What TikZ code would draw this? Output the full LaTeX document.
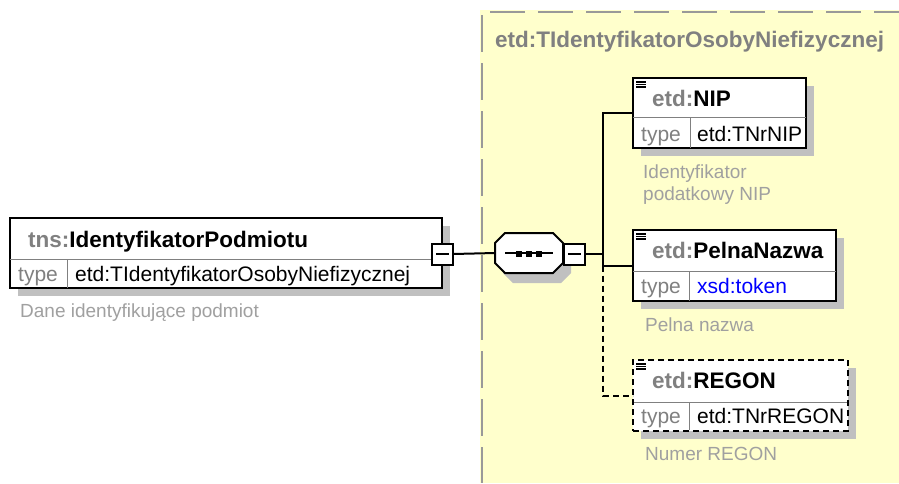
\documentclass[tikz,border=0pt]{standalone}
\usepackage{fontspec}
\setmainfont{Liberation Sans}
\definecolor{ybg}{HTML}{FFFFCC}
\definecolor{shd}{HTML}{C0C0C0}
\definecolor{gtx}{HTML}{808080}
\definecolor{dtx}{HTML}{A0A0A0}
\definecolor{bdr}{HTML}{999999}
\definecolor{lnk}{HTML}{0000FF}
\begin{document}
\begin{tikzpicture}[x=1pt,y=-1pt,
  elem/.style={draw=black,line width=2pt,fill=white,anchor=north west,inner sep=0pt,outer sep=0pt},
  optelem/.style={elem,dash pattern=on 6pt off 4pt},
  shadowfill/.style={fill=shd,draw=none},
  divider/.style={draw=gtx,line width=1pt},
  conn/.style={draw=black,line width=2pt},
  optconn/.style={conn,dash pattern=on 6pt off 4pt},
  minusbox/.style={draw=black,line width=2pt,fill=white,minimum size=21pt,inner sep=0pt,outer sep=0pt,
    path picture={\draw[line width=1.5pt] ([xshift=4pt]path picture bounding box.west) -- ([xshift=-4pt]path picture bounding box.east);}},
  icon/.style={draw=black,line width=1.1pt},
  hdr/.style={anchor=base west,inner sep=0pt,font=\bfseries\fontsize{22.5}{27}\selectfont},
  typ/.style={anchor=base west,inner sep=0pt,font=\fontsize{21}{25}\selectfont},
  desc/.style={anchor=base west,inner sep=0pt,text=dtx,font=\fontsize{19}{23}\selectfont},
  border/.style={draw=bdr,line width=2pt}
]
\useasboundingbox (0,0) rectangle (899,483);
\fill[white] (0,0) rectangle (899,483);

% complex type area
\fill[ybg] (480,10) rectangle (899,483);
\draw[border,dash pattern=on 35pt off 13pt] (490,12) -- (899,12);
\draw[border,dash pattern=on 37pt off 11pt] (482,15) -- (482,483);
\node[anchor=base west,inner sep=0pt,text=gtx,font=\bfseries\fontsize{22.5}{27}\selectfont] (ctype) at (495,47) {etd:TIdentyfikatorOsobyNiefizycznej};

% root element
\fill[shadowfill] (18,226) rectangle (450,296);
\node[elem,minimum width=432pt,minimum height=70pt] (root) at (10,218) {};
\draw[divider] (10,259) -- (442,259);
\draw[divider] (67,259) -- (67,288);
\node[hdr] (roothdr) at (28,247) {\textcolor{gtx}{tns:}IdentyfikatorPodmiotu};
\node[typ,text=gtx] (roottl) at (18,281) {type};
\node[typ] (roottv) at (75,281) {etd:TIdentyfikatorOsobyNiefizycznej};
\node[desc] (rootdesc) at (20,317) {Dane identyfikujące podmiot};
\node[minusbox] (m1) at (442.5,254) {};

% sequence compositor
\fill[shadowfill] (513,243) -- (561,243) -- (571,253) -- (571,273) -- (561,283) -- (513,283) -- (503,273) -- (503,253) -- cycle;
\node[inner sep=0pt,outer sep=0pt,minimum width=68pt,minimum height=40pt] (seq) at (529,253) {};
\draw[line width=2pt,fill=white] (505,233) -- (553,233) -- (563,243) -- (563,263) -- (553,273) -- (505,273) -- (495,263) -- (495,243) -- cycle;
\draw[line width=2pt] (505,253) -- (553,253);
\foreach \sx in {519,529,539} \fill (\sx-3,250.5) rectangle (\sx+3,256.5);
\node[minusbox] (m2) at (574.5,254) {};
\coordinate (jn) at (603,254);

% NIP
\fill[shadowfill] (641,86) rectangle (814,156);
\node[elem,minimum width=173pt,minimum height=70pt] (nip) at (633,78) {};
\draw[divider] (633,117) -- (806,117);
\draw[divider] (690,117) -- (690,148);
\draw[icon] (636,82) -- (646,82) (636,84.5) -- (646,84.5) (636,87) -- (646,87);
\node[hdr] (niphdr) at (652,106) {\textcolor{gtx}{etd:}NIP};
\node[typ,text=gtx] (niptl) at (641,141) {type};
\node[typ] (niptv) at (697,141) {etd:TNrNIP};
\node[desc] (nipd1) at (643,178) {Identyfikator};
\node[desc] (nipd2) at (643,200) {podatkowy NIP};

% PelnaNazwa
\fill[shadowfill] (641,238) rectangle (844,309);
\node[elem,minimum width=203pt,minimum height=71pt] (pn) at (633,230) {};
\draw[divider] (633,271) -- (836,271);
\draw[divider] (689,271) -- (689,301);
\draw[icon] (636,234) -- (646,234) (636,236.5) -- (646,236.5) (636,239) -- (646,239);
\node[hdr] (pnhdr) at (652,258) {\textcolor{gtx}{etd:}PelnaNazwa};
\node[typ,text=gtx] (pntl) at (641,293) {type};
\node[typ,text=lnk] (pntv) at (697,293) {xsd:token};
\node[desc] (pnd) at (645,331) {Pelna nazwa};

% REGON
\fill[shadowfill] (641,368) rectangle (856,439);
\node[optelem,minimum width=215pt,minimum height=71pt] (rg) at (633,360) {};
\draw[divider] (634,402) -- (847,402);
\draw[divider] (689,402) -- (689,430);
\draw[icon] (636,364) -- (646,364) (636,366.5) -- (646,366.5) (636,369) -- (646,369);
\node[hdr] (rghdr) at (652,388) {\textcolor{gtx}{etd:}REGON};
\node[typ,text=gtx] (rgtl) at (641,423) {type};
\node[typ] (rgtv) at (697,423) {etd:TNrREGON};
\node[desc] (rgd) at (645,460) {Numer REGON};

% connectors
\draw[conn] (m1.east) -- (seq.west);
\draw[conn] (m2.east) -- (jn);
\draw[conn] (nip.west) -- (nip.west -| jn) -- (pn.west -| jn) -- (pn.west);
\draw[optconn] (pn.west -| jn) -- (rg.west -| jn) -- (rg.west);
\end{tikzpicture}
\end{document}
